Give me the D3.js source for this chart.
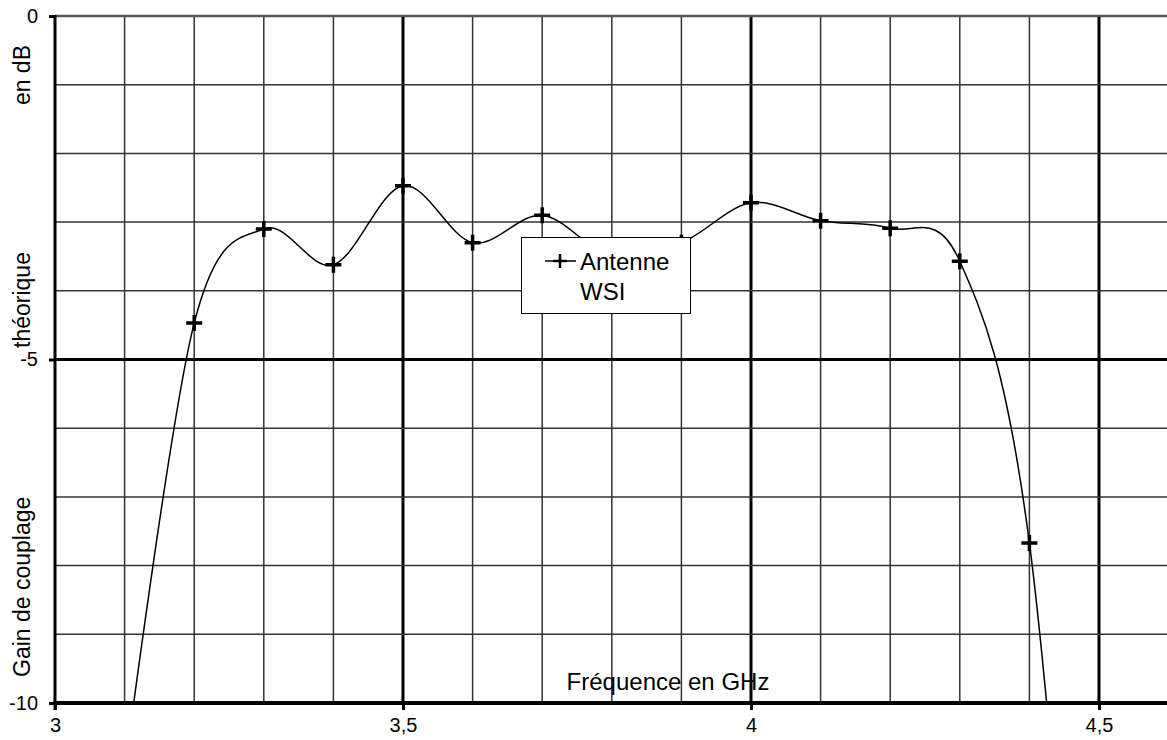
<!DOCTYPE html>
<html lang="fr">
<head>
<meta charset="UTF-8">
<title>Gain de couplage</title>
<script src="https://d3js.org/d3.v7.min.js"></script>
<style>
  body { margin: 0; background: #fff; }
  text { font-family: "Liberation Sans", Arial, sans-serif; fill: #000; }
</style>
</head>
<body>
<script>
  // valeurs (3,1 et 4,5 hors cadre, 3,8 / 3,9 sous la légende)
  const freq = [3.1, 3.2, 3.3, 3.4, 3.5, 3.6, 3.7, 3.8, 3.9, 4.0, 4.1, 4.2, 4.3, 4.4, 4.5];
  const gain = [-11, -4.47, -3.1, -3.62, -2.47, -3.3, -2.9, -3.5, -3.3, -2.72, -2.98, -3.09, -3.57, -7.67, -19];
  const xTicks = [3, 3.5, 4, 4.5];
  const yTicks = [0, -5, -10];
  const seriesName = ["Antenne", "WSI"];
  const xTitle = "Fréquence en GHz";
  const yTitleWords = ["Gain de couplage", "théorique", "en dB"];

  const width = 1167, height = 740;
  const plotLeft = 55, plotTop = 16, plotBottom = 703;

  const fr = d3.formatLocale({decimal: ",", thousands: " ", grouping: [3], currency: ["", " €"], minus: "-"});
  const fmt = fr.format("~g");

  const x = d3.scaleLinear().domain([3, 4.6]).range([plotLeft, plotLeft + 1113.6]);
  const y = d3.scaleLinear().domain([-10, 0]).range([plotBottom, plotTop]);

  const svg = d3.select("body").append("svg")
      .attr("width", width)
      .attr("height", height);

  svg.append("defs").append("clipPath").attr("id", "plot")
      .append("rect").attr("x", plotLeft).attr("y", plotTop)
      .attr("width", width - plotLeft).attr("height", plotBottom - plotTop);

  // grille
  const grid = svg.append("g");
  const xGrid = d3.range(31, 47).map(d => d / 10);
  grid.selectAll(".vx").data(xGrid).enter().append("line")
      .attr("x1", d => x(d)).attr("x2", d => x(d))
      .attr("y1", plotTop).attr("y2", plotBottom)
      .attr("stroke", d => Math.round(d * 10) % 5 === 0 ? "#000" : "#333")
      .attr("stroke-width", d => Math.round(d * 10) % 5 === 0 ? 3 : 1.5);
  const yGrid = d3.range(-9, 0);
  grid.selectAll(".hy").data(yGrid).enter().append("line")
      .attr("x1", plotLeft).attr("x2", width)
      .attr("y1", d => y(d)).attr("y2", d => y(d))
      .attr("stroke", d => d === -5 ? "#000" : "#333")
      .attr("stroke-width", d => d === -5 ? 3 : 1.5);

  // bord haut
  svg.append("line")
      .attr("x1", plotLeft).attr("x2", width)
      .attr("y1", y(0)).attr("y2", y(0))
      .attr("stroke", "#555").attr("stroke-width", 2.5);

  // axes
  const xAxis = svg.append("g")
      .attr("transform", `translate(0,${plotBottom})`)
      .call(d3.axisBottom(x).tickValues(xTicks).tickFormat(fmt).tickSize(7).tickPadding(8));
  xAxis.select(".domain").remove();
  xAxis.selectAll(".tick line").attr("stroke", "#000").attr("stroke-width", 3);
  xAxis.selectAll(".tick text").attr("font-size", 20);
  svg.append("line")
      .attr("x1", plotLeft - 1.5).attr("x2", width)
      .attr("y1", plotBottom).attr("y2", plotBottom)
      .attr("stroke", "#000").attr("stroke-width", 4);

  const yAxis = svg.append("g")
      .attr("transform", `translate(${plotLeft},0)`)
      .call(d3.axisLeft(y).tickValues(yTicks).tickFormat(fmt).tickSize(6).tickPadding(11));
  yAxis.select(".domain").remove();
  yAxis.selectAll(".tick line").attr("stroke", "#000").attr("stroke-width", 3);
  yAxis.selectAll(".tick text").attr("font-size", 20);
  svg.append("line")
      .attr("x1", plotLeft).attr("x2", plotLeft)
      .attr("y1", plotTop - 1).attr("y2", plotBottom + 7)
      .attr("stroke", "#000").attr("stroke-width", 3);

  // courbe
  const pts = freq.map((f, i) => ({f: f, g: gain[i]}));
  const plot = svg.append("g").attr("clip-path", "url(#plot)");
  const line = d3.line()
      .x(d => x(d.f)).y(d => y(d.g))
      .curve(d3.curveCardinal.tension(0));
  plot.append("path").datum(pts)
      .attr("d", line)
      .attr("fill", "none")
      .attr("stroke", "#000")
      .attr("stroke-width", 1.5);

  plot.selectAll(".mk").data(pts).enter().append("path")
      .attr("transform", d => `translate(${x(d.f)},${y(d.g)})`)
      .attr("d", "M-8,0H8M0,-8V8")
      .attr("stroke", "#000")
      .attr("stroke-width", 3.5);

  // titres
  svg.append("text")
      .attr("x", 668).attr("y", 690)
      .attr("text-anchor", "middle")
      .attr("font-size", 24)
      .text(xTitle);

  const yt = svg.append("g").attr("transform", "translate(30,0) rotate(-90)");
  yt.append("text").attr("x", -677).attr("y", 0).attr("font-size", 23).text(yTitleWords[0]);
  yt.append("text").attr("x", -300).attr("y", 0).attr("text-anchor", "middle").attr("font-size", 23).text(yTitleWords[1]);
  yt.append("text").attr("x", -45).attr("y", 0).attr("text-anchor", "end").attr("font-size", 23).text(yTitleWords[2]);

  // légende
  const lg = svg.append("g");
  lg.append("rect")
      .attr("x", 521.5).attr("y", 237.5).attr("width", 169).attr("height", 76)
      .attr("fill", "#fff").attr("stroke", "#000").attr("stroke-width", 1);
  lg.append("line").attr("x1", 545).attr("x2", 576).attr("y1", 261).attr("y2", 261)
      .attr("stroke", "#000").attr("stroke-width", 1.5);
  lg.append("path").attr("transform", "translate(560,261)")
      .attr("d", "M-7,0H7M0,-7V7").attr("stroke", "#000").attr("stroke-width", 2.5);
  lg.append("text").attr("x", 580).attr("y", 270).attr("font-size", 24).text(seriesName[0]);
  lg.append("text").attr("x", 580).attr("y", 300).attr("font-size", 24).text(seriesName[1]);
</script>
</body>
</html>
